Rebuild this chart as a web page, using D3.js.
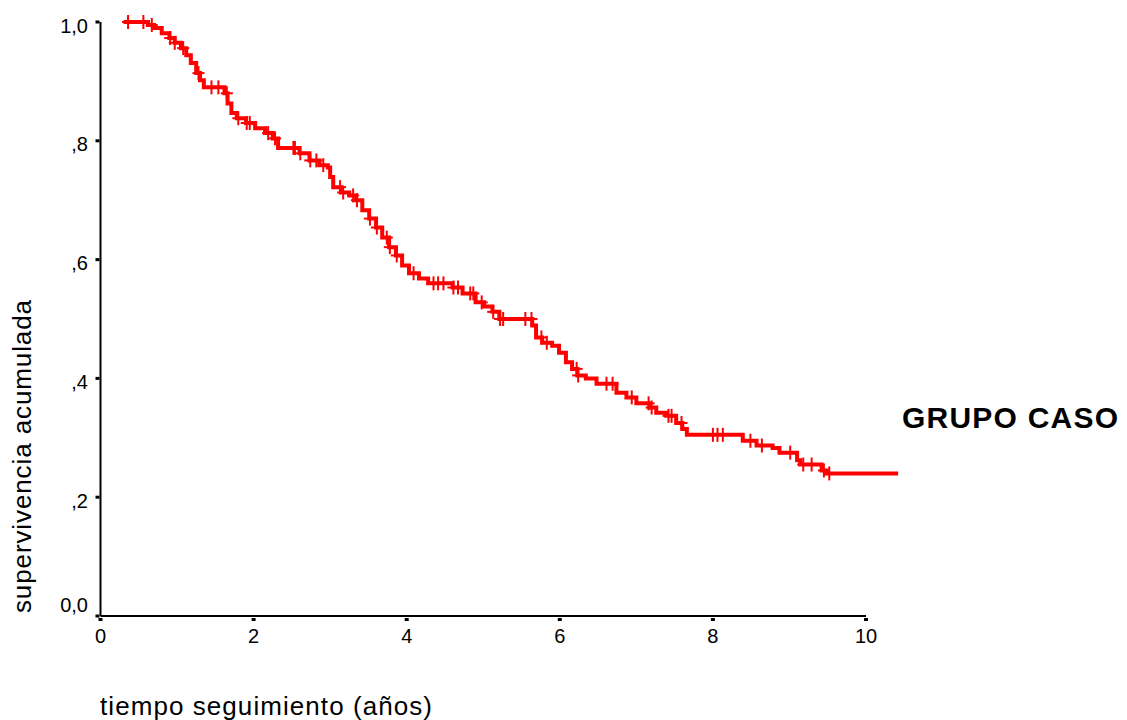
<!DOCTYPE html>
<html>
<head>
<meta charset="utf-8">
<script src="https://cdn.jsdelivr.net/npm/d3@7"></script>
<style>
  html, body { margin: 0; padding: 0; background: #fff; }
  svg { display: block; font-family: "Liberation Sans", Arial, sans-serif; }
</style>
</head>
<body>
<svg id="chart" width="1127" height="720"></svg>
<script>
// Kaplan-Meier estimate: times (years) where the survival step changes, and the value after each step
const stepTimes = [0.30, 0.62, 0.70, 0.80, 0.90, 0.97, 1.05, 1.12, 1.18, 1.25, 1.30, 1.35,
  1.62, 1.66, 1.71, 1.78, 1.90, 2.02, 2.15, 2.25, 2.32, 2.60, 2.73, 2.86, 2.97, 3.00,
  3.04, 3.14, 3.25, 3.34, 3.42, 3.51, 3.60, 3.68, 3.77, 3.86, 3.94, 4.03, 4.16, 4.28,
  4.60, 4.73, 4.90, 5.01, 5.12, 5.21, 5.64, 5.69, 5.77, 5.90, 5.99, 6.08, 6.16, 6.23,
  6.34, 6.48, 6.74, 6.87, 7.00, 7.17, 7.26, 7.39, 7.52, 7.60, 7.66, 8.39, 8.57, 8.78,
  8.87, 9.10, 9.14, 9.42, 9.48];
const survival = [1.000, 0.995, 0.990, 0.981, 0.973, 0.965, 0.956, 0.944, 0.931, 0.914, 0.902, 0.890,
  0.880, 0.863, 0.847, 0.838, 0.830, 0.821, 0.813, 0.804, 0.788, 0.779, 0.767, 0.759, 0.755, 0.739,
  0.722, 0.713, 0.708, 0.700, 0.683, 0.669, 0.654, 0.637, 0.621, 0.607, 0.590, 0.577, 0.568, 0.560,
  0.553, 0.543, 0.528, 0.521, 0.512, 0.500, 0.489, 0.469, 0.460, 0.455, 0.443, 0.427, 0.416, 0.405,
  0.400, 0.391, 0.376, 0.368, 0.358, 0.351, 0.342, 0.337, 0.325, 0.315, 0.305, 0.295, 0.287, 0.283,
  0.275, 0.262, 0.255, 0.245, 0.240];
const lastFollowUp = 10.42;

// Censored observations (years)
const censorTimes = [0.36, 0.56, 0.67, 0.91, 0.97, 1.08, 1.28, 1.45, 1.54, 1.65, 1.80, 1.91, 1.95,
  2.19, 2.28, 2.52, 2.54, 2.61, 2.74, 2.82, 2.91, 3.13, 3.17, 3.30, 3.35, 3.52, 3.61, 3.74, 3.78,
  3.87, 4.09, 4.35, 4.41, 4.48, 4.61, 4.67, 4.83, 4.87, 4.98, 5.13, 5.22, 5.26, 5.55, 5.63, 5.76,
  5.83, 6.22, 6.24, 6.61, 6.69, 6.94, 7.16, 7.20, 7.42, 7.46, 7.59, 8.00, 8.06, 8.13, 8.49, 8.64,
  9.01, 9.18, 9.29, 9.45, 9.52];

const xTicks = [0, 2, 4, 6, 8, 10];
const xTickLabels = ["0", "2", "4", "6", "8", "10"];
const yTicks = [0, 0.2, 0.4, 0.6, 0.8, 1.0];
const yTickLabels = ["0,0", ",2", ",4", ",6", ",8", "1,0"];

const groupName = "GRUPO CASO";
const xTitle = "tiempo seguimiento (años)";
const yTitle = "supervivencia acumulada";

const svg = d3.select("#chart");
const x = d3.scaleLinear().domain([0, 10]).range([100.5, 866]);
const y = d3.scaleLinear().domain([0, 1]).range([616, 22]);

// Axis lines
svg.append("line").attr("x1", x(0)).attr("x2", x(10)).attr("y1", y(0)).attr("y2", y(0))
  .attr("stroke", "#000").attr("stroke-width", 2);
svg.append("line").attr("x1", x(0)).attr("x2", x(0)).attr("y1", y(0)).attr("y2", y(1))
  .attr("stroke", "#000").attr("stroke-width", 2);

// Small square tick marks
svg.selectAll(".ytick").data(yTicks).join("rect")
  .attr("x", x(0) - 5).attr("y", d => y(d) - 1.5).attr("width", 4).attr("height", 3).attr("fill", "#000");
svg.selectAll(".xtick").data(xTicks).join("rect")
  .attr("x", d => x(d) - 2).attr("y", y(0) + 2).attr("width", 4).attr("height", 3).attr("fill", "#000");

// Tick labels
svg.selectAll(".ylab").data(yTicks).join("text")
  .attr("x", 88).attr("y", d => d === 0 ? y(d) - 4 : y(d) + 10.5)
  .attr("text-anchor", "end").attr("font-size", 20).attr("fill", "#000")
  .text((d, i) => yTickLabels[i]);
svg.selectAll(".xlab").data(xTicks).join("text")
  .attr("x", d => x(d)).attr("y", 643)
  .attr("text-anchor", "middle").attr("font-size", 20).attr("fill", "#000")
  .text((d, i) => xTickLabels[i]);

// Axis titles
svg.append("text").attr("x", 100).attr("y", 715).attr("font-size", 26)
  .attr("textLength", 332).attr("lengthAdjust", "spacing").text(xTitle);
svg.append("text").attr("transform", "translate(31,613) rotate(-90)")
  .attr("font-size", 26).attr("textLength", 313).attr("lengthAdjust", "spacing").text(yTitle);

// Survival step curve
const steps = stepTimes.map((t, i) => [t, survival[i]]);
steps.push([lastFollowUp, survival[survival.length - 1]]);
const line = d3.line().x(d => x(d[0])).y(d => y(d[1])).curve(d3.curveStepAfter);
svg.append("path").datum(steps).attr("d", line)
  .attr("fill", "none").attr("stroke", "#ff0000").attr("stroke-width", 4);

// Survival value at a given time
const bis = d3.bisector(d => d).right;
const survAt = t => { const i = bis(stepTimes, t) - 1; return i < 0 ? 1 : survival[i]; };

// Censor marks
const cg = svg.append("g").attr("stroke", "#ff0000").attr("stroke-width", 2);
censorTimes.forEach(t => {
  const cx = x(t), cy = y(survAt(t));
  cg.append("line").attr("x1", cx - 6).attr("x2", cx + 6).attr("y1", cy).attr("y2", cy);
  cg.append("line").attr("x1", cx).attr("x2", cx).attr("y1", cy - 7).attr("y2", cy + 7);
});

// Group label
svg.append("text").attr("x", 902).attr("y", 428).attr("font-size", 30).attr("font-weight", "bold")
  .attr("textLength", 216).attr("lengthAdjust", "spacing").text(groupName);
</script>
</body>
</html>
